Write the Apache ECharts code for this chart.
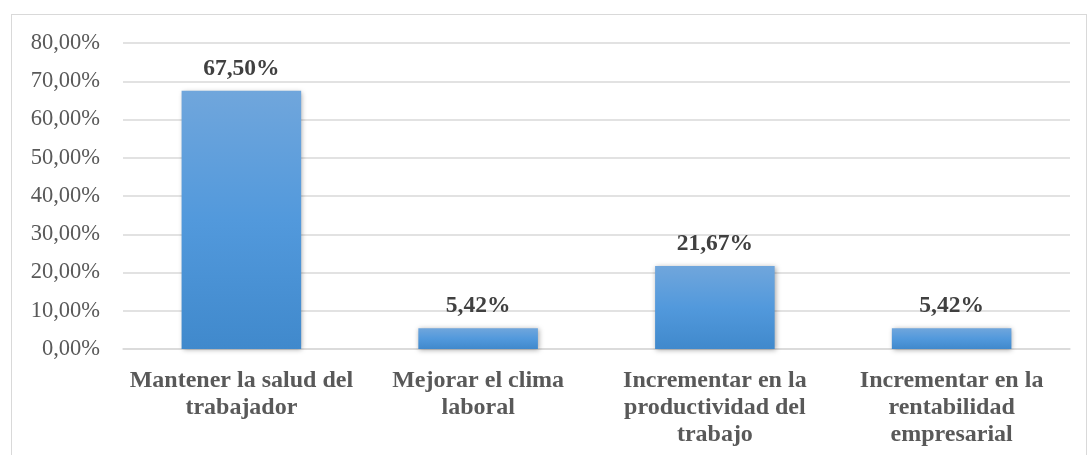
<!DOCTYPE html>
<html>
<head>
<meta charset="utf-8">
<script src="https://cdn.jsdelivr.net/npm/echarts@6/dist/echarts.min.js"></script>
<style>
html,body{margin:0;padding:0;background:#fff;}
#frame{position:absolute;left:11px;top:14px;width:1076px;height:460px;border:1.5px solid #d9d9d9;box-sizing:border-box;}
#chart{position:absolute;left:0;top:0;width:1088px;height:455px;}
</style>
</head>
<body>
<div id="frame"></div>
<div id="chart"></div>
<script>
const categories = [
  "Mantener la salud del\ntrabajador",
  "Mejorar el clima\nlaboral",
  "Incrementar en la\nproductividad del\ntrabajo",
  "Incrementar en la\nrentabilidad\nempresarial"
];
const values = [67.50, 5.42, 21.67, 5.42];
const yMin = 0, yMax = 80, yStep = 10;

const SERIF = 'Liberation Serif';
function pct(v){ return v.toFixed(2).replace('.', ',') + '%'; }

const chart = echarts.init(document.getElementById('chart'), null, {renderer:'canvas'});
chart.setOption({
  animation:false,
  backgroundColor:'transparent',
  textStyle:{fontFamily:SERIF},
  grid:{left:123, right:18, top:43, bottom:106, containLabel:false},
  xAxis:{
    type:'category',
    data:categories,
    axisLine:{show:true, lineStyle:{color:'#d9d9d9', width:1.5}},
    axisTick:{show:false},
    axisLabel:{
      interval:0,
      margin:18,
      fontFamily:SERIF,
      fontWeight:'bold',
      fontSize:24,
      lineHeight:27,
      color:'#595959'
    }
  },
  yAxis:{
    type:'value',
    min:yMin, max:yMax, interval:yStep,
    axisLine:{show:false},
    axisTick:{show:false},
    splitLine:{lineStyle:{color:'#d9d9d9', width:1.5}},
    axisLabel:{
      margin:23,
      fontFamily:SERIF,
      fontSize:22.5,
      color:'#595959',
      formatter:function(v){ return pct(v); }
    }
  },
  series:[{
    type:'bar',
    data:values,
    barWidth:'50.5%',
    itemStyle:{
      color:new echarts.graphic.LinearGradient(0,0,0,1,[
        {offset:0, color:'#70a6dc'},
        {offset:0.5, color:'#5299dc'},
        {offset:1, color:'#4089cc'}
      ]),
      shadowColor:'rgba(0,0,0,0.35)',
      shadowBlur:5,
      shadowOffsetX:1,
      shadowOffsetY:1
    },
    label:{
      show:true,
      position:'top',
      distance:10,
      fontFamily:SERIF,
      fontWeight:'bold',
      fontSize:23.5,
      color:'#404040',
      formatter:function(p){ return pct(p.value); }
    }
  }]
});
</script>
</body>
</html>
